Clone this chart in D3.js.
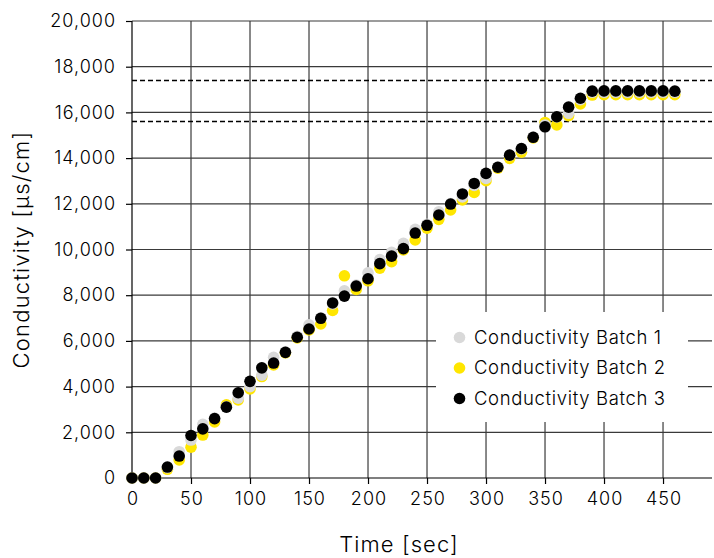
<!DOCTYPE html>
<html>
<head>
<meta charset="utf-8">
<script src="https://cdn.jsdelivr.net/npm/d3@7/dist/d3.min.js"></script>
<style>
  html, body { margin: 0; padding: 0; background: #fff; }
  svg { display: block; font-family: Inter, "Noto Sans", sans-serif; font-weight: 300; }
</style>
</head>
<body>
<svg id="chart" width="714" height="558"></svg>
<script>
const times = [0,10,20,30,40,50,60,70,80,90,100,110,120,130,140,150,160,170,180,190,200,210,220,230,240,250,260,270,280,290,300,310,320,330,340,350,360,370,380,390,400,410,420,430,440,450,460];
const batch1 = [0,0,0,450,1150,1660,2350,2620,3120,3490,4000,4500,5280,5520,6200,6700,7010,7620,8190,8440,8980,9560,9880,10270,10880,11100,11650,12010,12300,12800,13110,13610,14120,14400,14920,15450,15800,15960,16560,16880,16880,16880,16880,16880,16880,16880,16880];
const batch2 = [0,0,0,380,790,1350,1880,2450,3200,3420,3900,4440,4950,5480,6130,6480,6740,7330,8850,8250,8630,9180,9470,9980,10420,10930,11320,11730,12170,12500,13010,13560,13990,14260,14880,15560,15450,15860,16370,16760,16780,16780,16780,16780,16780,16780,16780];
const batch3 = [0,0,0,480,960,1860,2150,2600,3100,3730,4230,4820,5030,5500,6160,6520,6990,7660,7960,8400,8720,9380,9710,10040,10720,11060,11510,11990,12430,12890,13330,13600,14130,14420,14910,15370,15810,16230,16620,16930,16940,16940,16940,16940,16940,16940,16930];
const seriesNames = ["Conductivity Batch 1","Conductivity Batch 2","Conductivity Batch 3"];
const seriesColors = ["#d9d9d9","#ffe600","#000000"];
const xTicks = [0,50,100,150,200,250,300,350,400,450];
const yTicks = [0,2000,4000,6000,8000,10000,12000,14000,16000,18000,20000];
const limits = [17400, 15600];
const xTitle = "Time [sec]";
const yTitle = "Conductivity [µs/cm]";

const svg = d3.select("#chart");
const x = d3.scaleLinear().domain([0, 491.5]).range([132, 712]);
const y = d3.scaleLinear().domain([0, 20000]).range([478, 21]);
const fmt = d3.format(",");

// gridlines
const grid = svg.append("g");
grid.selectAll("line.h").data(yTicks.filter(d => d > 0)).join("line")
  .attr("x1", x(0)).attr("x2", 712)
  .attr("y1", d => y(d)).attr("y2", d => y(d))
  .attr("stroke", "#3a3a3a").attr("stroke-width", 1.2);
grid.selectAll("line.v").data(xTicks.filter(d => d > 0)).join("line")
  .attr("x1", d => x(d)).attr("x2", d => x(d))
  .attr("y1", y(20000)).attr("y2", y(0))
  .attr("stroke", "#3a3a3a").attr("stroke-width", 1.2);

// dashed limit lines
svg.append("g").selectAll("line").data(limits).join("line")
  .attr("x1", x(0)).attr("x2", 712)
  .attr("y1", d => y(d)).attr("y2", d => y(d))
  .attr("stroke", "#000").attr("stroke-width", 1.5)
  .attr("stroke-dasharray", "5,3");

// axes
const xAxis = svg.append("g").attr("transform", `translate(0,${y(0)})`)
  .call(d3.axisBottom(x).tickValues(xTicks).tickSize(6).tickPadding(8).tickFormat(d3.format("d")));
xAxis.select(".domain").attr("stroke", "#000").attr("stroke-width", 1.2).attr("d", `M${x(0)},0H712`);
xAxis.selectAll(".tick line").attr("stroke", "#000").attr("stroke-width", 1.2);
xAxis.selectAll(".tick text").attr("font-size", 18).attr("fill", "#000")
  .attr("font-family", "Inter").attr("font-weight", 300).attr("letter-spacing", 1).attr("dx", 0.5);

const yAxis = svg.append("g").attr("transform", `translate(${x(0)},0)`)
  .call(d3.axisLeft(y).tickValues(yTicks).tickSize(6).tickPadding(10).tickFormat(fmt));
yAxis.select(".domain").attr("stroke", "#000").attr("stroke-width", 1.2).attr("d", `M0,${y(20000)}V${y(0)}`);
yAxis.selectAll(".tick line").attr("stroke", "#000").attr("stroke-width", 1.2);
yAxis.selectAll(".tick text").attr("font-size", 18).attr("fill", "#000")
  .attr("font-family", "Inter").attr("font-weight", 300).attr("letter-spacing", 1);

// points
const allSeries = [batch1, batch2, batch3];
const drawOrder = [1, 0, 2];
drawOrder.forEach(i => {
  svg.append("g").selectAll("circle").data(times.map((t, k) => [t, allSeries[i][k]])).join("circle")
    .attr("cx", d => x(d[0])).attr("cy", d => y(d[1])).attr("r", 5.8)
    .attr("fill", seriesColors[i]);
});

// legend
const lg = svg.append("g");
lg.append("rect").attr("x", 436).attr("y", 312).attr("width", 252).attr("height", 110).attr("fill", "#fff");
seriesNames.forEach((name, i) => {
  const cy = 337.5 + i * 30.5;
  lg.append("circle").attr("cx", 459.5).attr("cy", cy).attr("r", 5.8).attr("fill", seriesColors[i]);
  lg.append("text").attr("x", 474).attr("y", cy).attr("dy", "0.35em")
    .attr("font-size", 18.5).attr("letter-spacing", 0.65).attr("fill", "#000").text(name);
});

// titles
svg.append("text").attr("x", 399).attr("y", 552).attr("text-anchor", "middle")
  .attr("font-size", 22).attr("letter-spacing", 1.1).attr("fill", "#000").text(xTitle);
svg.append("text").attr("transform", `translate(29,${(y(0)+y(20000))/2}) rotate(-90)`)
  .attr("text-anchor", "middle").attr("font-size", 22).attr("letter-spacing", 1.2).attr("fill", "#000").text(yTitle);
</script>
</body>
</html>
